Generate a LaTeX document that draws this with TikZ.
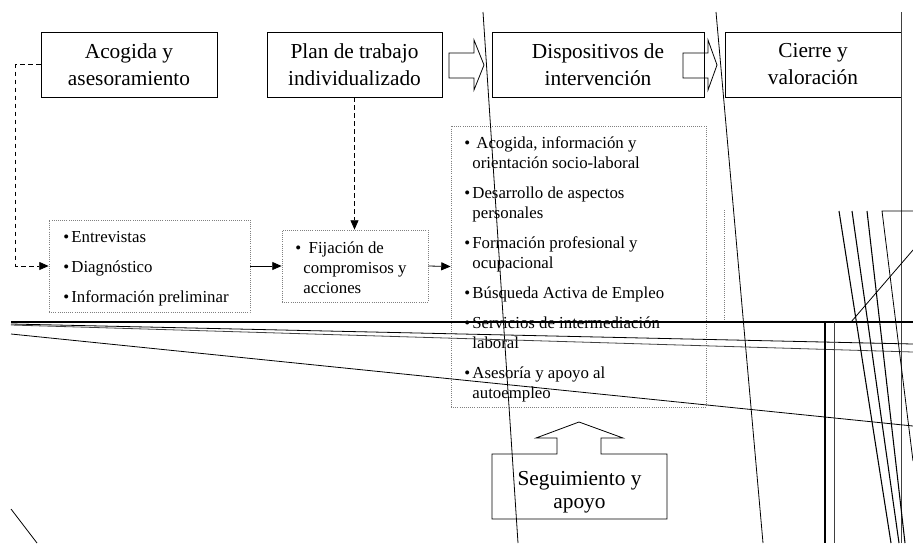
\documentclass[tikz,border=0pt]{standalone}
\usepackage{fontspec}
\setmainfont{Liberation Serif}
\usetikzlibrary{arrows.meta}

\begin{document}
\begin{tikzpicture}[x=0.75pt,y=-0.75pt,line width=0.6pt,
  stage/.style={draw,rectangle,minimum height=48.75pt,align=center,inner sep=0pt,
    font=\fontsize{16}{20.25}\selectfont},
  listbox/.style={draw=gray,densely dotted,rectangle,inner sep=0pt},
  entry/.style={anchor=base west,align=left,inner sep=0pt,font=\fontsize{12.6}{15}\selectfont},
  bulletmark/.style={anchor=base west,inner sep=0pt,font=\fontsize{12.6}{15}\selectfont},
  dashline/.style={dash pattern=on 3.5pt off 2.5pt,-{Triangle[length=7pt,width=6pt]}},
  arr/.style={-{Triangle[length=7pt,width=6pt]}}]

\useasboundingbox (0,0) rectangle (913,543);

\node[stage,minimum width=132pt]    (acog) at (129,64.5)   {Acogida y\\asesoramiento};
\node[stage,minimum width=131.25pt] (plan) at (354.5,64.5) {Plan de trabajo\\individualizado};
\node[stage,minimum width=159pt]    (disp) at (598,64.5)   {Dispositivos de\\intervención};
\node[stage,minimum width=132pt]    (cier) at (813,64.5)   {Cierre y\\valoración};

\draw (449,53) -- (474,53) -- (474,40) -- (484,65) -- (474,90) -- (474,78) -- (449,78) -- cycle;
\draw (683,53) -- (708,53) -- (708,40) -- (717,65) -- (708,90) -- (708,78) -- (683,78) -- cycle;

\node[listbox,minimum width=150.75pt,minimum height=69pt]     (llist) at (149.5,266) {};
\node[listbox,minimum width=109.5pt,minimum height=54pt]      (fij)   at (355,266)   {};
\node[listbox,minimum width=191.25pt,minimum height=210.75pt] (dlist) at (578.5,266.5) {};
\draw[gray,densely dotted] (724,210) -- (724,320);

\foreach \y/\txt [count=\i] in {242/Entrevistas,272/Diagnóstico,302/Información preliminar} {
  \node[bulletmark] (lb\i) at (63,\y) {•};
  \node[entry] (li\i) at (71,\y) {\txt};
}

\node[bulletmark] (fb) at (295,253) {•};
\node[entry] (fi) at (303,293) {\hspace*{4pt}Fijación de\\compromisos y\\acciones};

% y of the first line, number of lines, text
\foreach \y/\n/\txt [count=\i] in {148/2/{\hspace*{3pt}Acogida, información y\\orientación socio-laboral},
    198/2/{Desarrollo de aspectos\\personales},
    248/2/{Formación profesional y\\ocupacional},
    298/1/{Búsqueda Activa de Empleo},
    328/2/{Servicios de intermediación\\laboral},
    378/2/{Asesoría y apoyo al\\autoempleo}} {
  \node[bulletmark] (db\i) at (464,\y) {•};
  \node[entry] (di\i) at (472,{\y+20*(\n-1)}) {\txt};
}

\draw[dashline] (acog.west) -- ++(-25,0) |- (llist.west);
\draw[dashline] (plan.south) -- (plan.south |- fij.north);
\draw[arr] (llist.east) -- (fij.west);
\draw[arr] (fij.east) -- (dlist.west);

\draw (492,519) -- (492,454) -- (557,454) -- (557,438) -- (536,438) -- (579,422)
  -- (623,438) -- (601,438) -- (601,454) -- (667,454) -- (667,519) -- cycle;
\node[anchor=base,align=center,inner sep=0pt,font=\fontsize{16}{17}\selectfont]
  (seg) at (579.5,508) {Seguimiento y\\apoyo};

\draw (483,12) -- (518,543);
\draw (716,12) -- (763,543);
\draw[darkgray] (901,12) -- (901,543);

\draw[line width=1.8pt] (11,322) -- (913,322);
\draw (11,324) -- (913,344);
\draw[darkgray] (11,325) -- (913,352);
\draw (11,334) -- (913,426);
\draw (11,509) -- (37,543);

\draw[line width=0.9pt] (825,322) -- (825,543);
\draw[darkgray] (834,322) -- (834,543);

\draw[line width=0.8pt] (839,211) -- (891,543);
\draw[line width=0.8pt] (852,211) -- (899,543);
\draw[line width=0.8pt] (867,211) -- (905,543);
\draw (913,211) -- (882,211) -- (913,461);
\draw (851,322) -- (913,250);

\end{tikzpicture}
\end{document}
